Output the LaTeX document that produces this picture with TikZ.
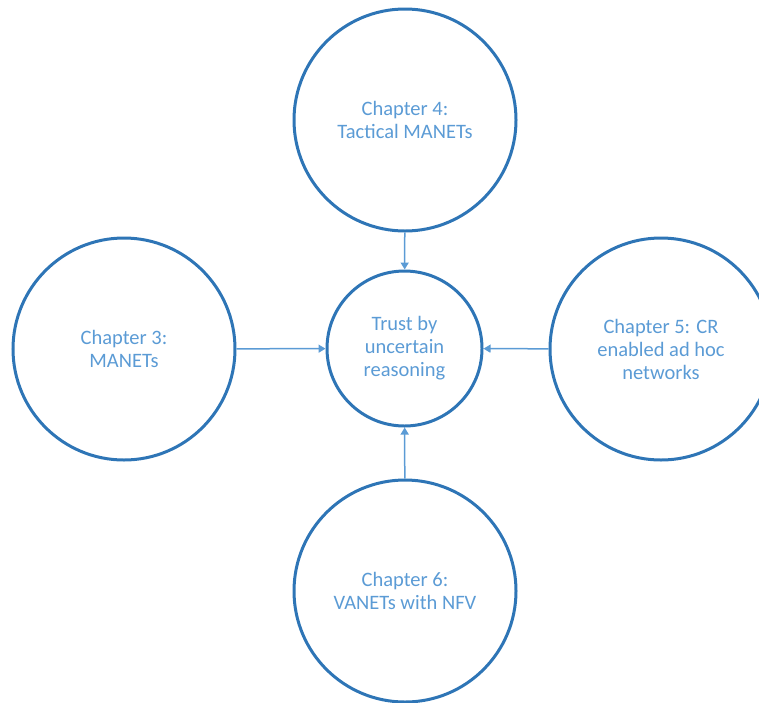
\documentclass[tikz,border=0pt]{standalone}
\usepackage{fontspec}
\setmainfont{Carlito}
\usetikzlibrary{arrows.meta}
\definecolor{ringblue}{HTML}{2E75B6}
\definecolor{textblue}{HTML}{5B9BD5}
\newcommand{\outerdiam}{222pt}
\newcommand{\innerdiam}{155pt}
\newcommand{\ringwidth}{3pt}

\begin{document}
\begin{tikzpicture}[x=1pt, y=-1pt, >={Triangle[length=7pt,width=8pt]},
    chapter/.style={circle, draw=ringblue, line width=\ringwidth, minimum size=\outerdiam,
        inner sep=0pt, text=textblue, align=center, font=\fontsize{20.5}{23}\selectfont},
    core/.style={chapter, minimum size=\innerdiam},
    feed/.style={->, draw=textblue, fill=textblue, line width=1.5pt}]
        \useasboundingbox (0, 0) rectangle (759, 702);

        \node[core] (trust) at (404.5, 348.5) {Trust by\\uncertain\\reasoning};
        \node[chapter] (tactical) at (405, 120) {Chapter 4:\\Tactical MANETs};
        \node[chapter] (manet) at (124, 349) {Chapter 3:\\MANETs};
        \node[chapter] (cognitive) at (661, 349) {Chapter 5: CR\\enabled ad hoc\\networks};
        \node[chapter] (vanet) at (405, 591) {Chapter 6:\\VANETs with NFV};

        % arrows into the centre
        \draw[feed] (tactical) -- (trust);
        \draw[feed] (manet) -- (trust);
        \draw[feed] (cognitive) -- (trust);
        \draw[feed] (vanet) -- (trust);
\end{tikzpicture}
\end{document}
